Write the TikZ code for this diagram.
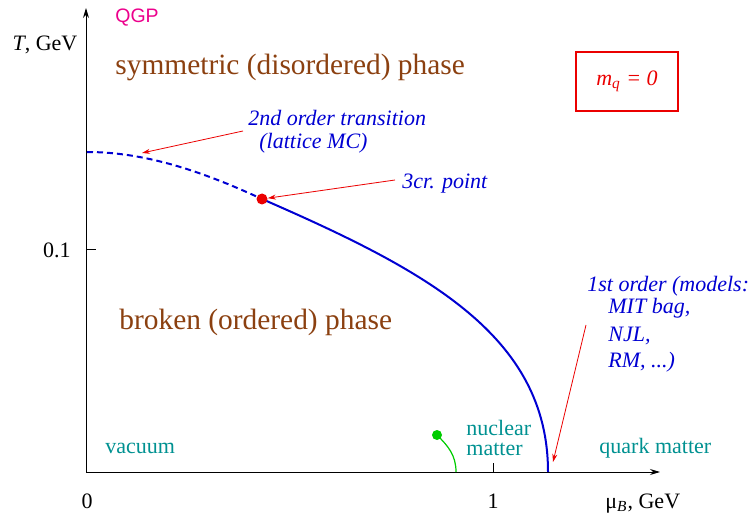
\documentclass[tikz,border=0pt]{standalone}
\usepackage{fontspec}
\setmainfont{Liberation Serif}
\newfontfamily\qgpfont{Liberation Sans}
\usepackage{xcolor}
\usetikzlibrary{arrows.meta,positioning,calc}

\definecolor{phasebrown}{RGB}{139,64,16}
\definecolor{regionteal}{RGB}{0,145,145}
\definecolor{lineblue}{RGB}{0,0,210}
\definecolor{critred}{RGB}{235,0,0}

\begin{document}
\begin{tikzpicture}[
    x=0.5pt, y=-0.5pt,
    >=Stealth,
    phaselbl/.style={inner sep=0pt, anchor=base west, text=phasebrown,
        font=\fontsize{14.7}{17}\selectfont},
    regionlbl/.style={inner sep=0pt, anchor=base west, text=regionteal,
        font=\fontsize{11}{13}\selectfont},
    notelbl/.style={inner sep=0pt, anchor=base west, text=lineblue,
        font=\fontsize{11}{13}\selectfont\itshape},
    axislbl/.style={inner sep=0pt, font=\fontsize{11}{13}\selectfont},
    axisline/.style={-{Stealth[length=5pt,width=3pt]}, line width=0.5pt},
    noteedge/.style={->, line width=0.4pt, color=critred,
        >={Stealth[length=4pt,width=2.5pt]}},
    transline/.style={line width=1pt, color=lineblue}
]
\useasboundingbox (0,0) rectangle (749,518);

% axes
\coordinate (O) at (86,472);
\coordinate (Ytop) at (86,8);
\coordinate (Xend) at (660,472);
\draw[axisline] (O) -- (Ytop);
\draw[axisline] (O) -- (Xend);
\coordinate (Ttick) at (86,250);
\coordinate (Mtick) at (493,472);
\draw[line width=0.5pt] (Ttick) -- ++(10,0);
\draw[line width=0.5pt] (Mtick) -- ++(0,-9);

\node[axislbl] (Tlbl) at (45,45) {\textit{T}, GeV};
\node[axislbl] (Tval) at (57,250) {0.1};
\node[axislbl, anchor=base] (Mzero) at (87,508) {0};
\node[axislbl, anchor=base] (Mone) at (493,508) {1};
\node[axislbl, anchor=base west] (Mlbl) at (605,508) {μ\textsubscript{\textit{B}}, GeV};

% phases
\node[inner sep=0pt, anchor=west, text=magenta,
    font=\fontsize{9.75}{12}\selectfont\qgpfont] (qgp) at (115,18) {QGP};
\node[phaselbl] (sym) at (115,75) {symmetric (disordered) phase};
\node[phaselbl] (brk) at (119,329) {broken (ordered) phase};
\node[draw=critred, line width=0.8pt, text=critred, minimum width=51pt,
    minimum height=29.5pt, font=\fontsize{11}{13}\selectfont\itshape]
    (mq) at (627,81.5) {m\textsubscript{q} = 0};

\node[regionlbl] (vac) at (105,453) {vacuum};
\node[regionlbl] (nuc1) at (466,435) {nuclear};
\node[regionlbl] (nuc2) at (466,455) {matter};
\node[regionlbl] (qm) at (599,453) {quark matter};

% transition lines
\coordinate (Tc) at (87,152);
\coordinate (Mc) at (548,472);
\coordinate (Cp) at (262,199);
\draw[transline, dashed, dash pattern=on 3pt off 2pt] (Tc) .. controls (150,152) and (210,175) .. (Cp);
\draw[transline] (Cp) .. controls (425,270) and (548,335) .. (Mc);
\node[circle, fill=critred, inner sep=0pt, minimum size=5.5pt] (tcp) at (Cp) {};

\coordinate (Nm) at (456,472);
\draw[green!80!black, line width=0.6pt] (437,435) .. controls (448,446) and (456,455) .. (Nm);
\node[circle, fill=green!80!black, inner sep=0pt, minimum size=5pt] (nmp) at (437,435) {};

% notes
\node[notelbl] (sec1) at (248,126) {2nd order transition};
\node[notelbl] (sec2) at (259,149) {(lattice MC)};
\node[notelbl] (tri) at (402,189) {3cr. point};
\node[notelbl] (fst1) at (587,292) {1st order (models:};
\node[notelbl] (fst2) at (608,314) {MIT bag,};
\node[notelbl] (fst3) at (608,341) {NJL,};
\node[notelbl] (fst4) at (608,367) {RM, ...)};

\coordinate (secA) at (243,131);
\coordinate (secB) at (142,153);
\coordinate (triA) at (395,180);
\coordinate (fstA) at (586,325);
\coordinate (fstB) at (553,462);
\draw[noteedge] (secA) -- (secB);
\draw[noteedge] (triA) -- (tcp);
\draw[noteedge] (fstA) -- (fstB);
\end{tikzpicture}
\end{document}
